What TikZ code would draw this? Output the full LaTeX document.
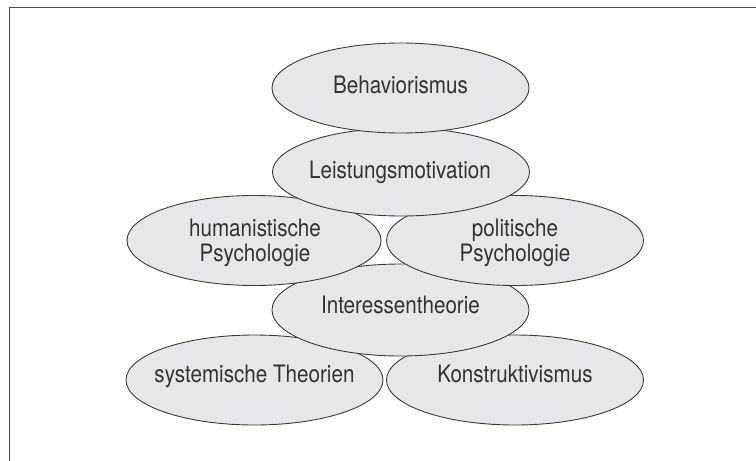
\documentclass[tikz,border=0pt]{standalone}
\usepackage{fontspec}
\newfontfamily\blobfont{TeX Gyre Heros}[FakeStretch=0.86]
\usetikzlibrary{shapes.geometric}
\definecolor{blobfill}{HTML}{E6E7E8}
\definecolor{blobline}{HTML}{3A3A3A}
\definecolor{blobtext}{HTML}{333333}
\definecolor{framegray}{HTML}{4A4A48}

\tikzset{
    blob/.style={ellipse, draw=blobline, fill=blobfill, line width=0.9pt,
        minimum width=257pt, minimum height=90pt, inner sep=0pt},
    lbl/.style={text=blobtext, font=\blobfont\fontsize{24}{24.5}\selectfont,
        align=center, inner sep=0pt}
}

\begin{document}
\begin{tikzpicture}[x=1pt,y=-1pt]
    \useasboundingbox (0,0) rectangle (756,461);
    \draw[framegray, line width=1.8pt] (9.5,461) -- (9.5,7.5) -- (756,7.5);

    \node[blob] (syst) at (254.5,380) {};
    \node[lbl, anchor=base] (systtext) at (254.5,382.7) {systemische Theorien};
    \node[blob] (konst) at (515,380) {};
    \node[lbl, anchor=base] (konsttext) at (515,382.7) {Konstruktivismus};

    \node[blob, minimum height=92pt] (inter) at (400.5,310) {};
    \node[lbl, anchor=base] (intertext) at (400.5,313.3) {Interessentheorie};

    \node[blob, minimum width=254pt] (human) at (254,240.5) {};
    \node[lbl] (humantext) at (255,243) {humanistische\\Psychologie};
    \node[blob] (polit) at (515,240.5) {};
    \node[lbl] (polittext) at (515,243) {politische\\Psychologie};

    \node[blob, minimum height=88pt] (leist) at (401,172) {};
    \node[lbl, anchor=base] (leisttext) at (400,178.3) {Leistungsmotivation};

    \node[blob] (behav) at (400.5,88) {};
    \node[lbl, anchor=base] (behavtext) at (400.5,93.3) {Behaviorismus};
\end{tikzpicture}
\end{document}
